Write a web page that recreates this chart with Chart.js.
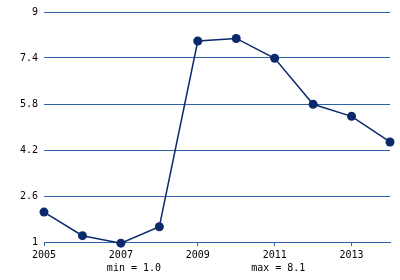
<!DOCTYPE html>
<html>
<head>
<meta charset="utf-8">
<script src="https://cdn.jsdelivr.net/npm/chart.js@4"></script>
<style>
html,body{margin:0;padding:0;background:#fff;}
canvas{display:block;}
</style>
</head>
<body>
<canvas id="c" width="400" height="280"></canvas>
<script>
const years = [2005, 2006, 2007, 2008, 2009, 2010, 2011, 2012, 2013, 2014];
const values = [2.04, 1.22, 0.96, 1.53, 7.99, 8.08, 7.39, 5.79, 5.37, 4.48];
const yTickValues = [1, 2.6, 4.2, 5.8, 7.4, 9];
const xTickValues = [2005, 2007, 2009, 2011, 2013];

const gridColor = '#2d62a6';
const lineColor = '#0b2a6b';
const font = {family: '"DejaVu Sans Mono", monospace', size: 10};

const minMaxPlugin = {
  id: 'minmax',
  afterDraw(chart) {
    const ctx = chart.ctx;
    const a = chart.chartArea;
    const mn = Math.min(...values), mx = Math.max(...values);
    ctx.save();
    ctx.font = '10px "DejaVu Sans Mono", monospace';
    ctx.fillStyle = '#000';
    ctx.textAlign = 'center';
    ctx.textBaseline = 'middle';
    const w = a.right - a.left;
    ctx.fillText('min = ' + mn.toFixed(1), a.left + w * 0.26, 268);
    ctx.fillText('max = ' + mx.toFixed(1), a.left + w * 0.677, 268);
    ctx.restore();
  }
};

new Chart(document.getElementById('c'), {
  type: 'line',
  data: {
    datasets: [{
      data: years.map((y, i) => ({x: y, y: values[i]})),
      borderColor: lineColor,
      backgroundColor: lineColor,
      borderWidth: 1.5,
      pointRadius: 4.5,
      pointBorderWidth: 0,
      pointBackgroundColor: lineColor,
      tension: 0,
      clip: false
    }]
  },
  options: {
    responsive: false,
    animation: false,
    events: [],
    layout: {padding: {left: 0, right: 10, top: 12, bottom: 0}},
    plugins: {legend: {display: false}, tooltip: {enabled: false}},
    scales: {
      x: {
        type: 'linear',
        min: 2005, max: 2014,
        afterBuildTicks: s => { s.ticks = xTickValues.map(v => ({value: v})); },
        afterFit: s => { s.height = 38; },
        ticks: {color: '#000', font: font, padding: 3, maxRotation: 0, autoSkip: false,
                callback: v => String(v)},
        grid: {drawOnChartArea: false, drawTicks: true, tickLength: 4, color: gridColor, lineWidth: 1},
        border: {display: true, color: gridColor, width: 1}
      },
      y: {
        min: 1, max: 9,
        afterBuildTicks: s => { s.ticks = yTickValues.map(v => ({value: v})); },
        afterFit: s => { s.width = 44; },
        ticks: {color: '#000', font: font, padding: 6, callback: v => String(v)},
        grid: {color: gridColor, lineWidth: 1, drawTicks: false, tickLength: 0},
        border: {display: false}
      }
    }
  },
  plugins: [minMaxPlugin]
});
</script>
</body>
</html>
